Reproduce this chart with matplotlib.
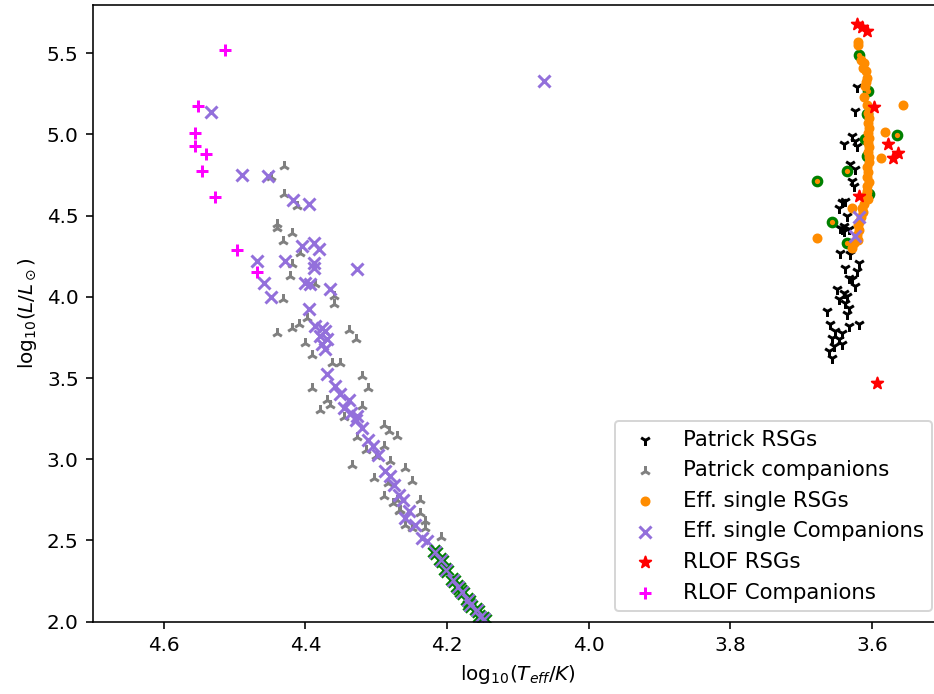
import matplotlib
matplotlib.use("Agg")
import matplotlib.pyplot as plt
import numpy as np

# Patrick RSGs
pat_rsg_T = [3.621, 3.624, 3.640, 3.628, 3.624, 3.621, 3.631, 3.624, 3.628, 3.626,
             3.642, 3.638, 3.647, 3.635, 3.640, 3.642, 3.633, 3.645, 3.640, 3.645,
             3.631, 3.619, 3.638, 3.621, 3.633, 3.628, 3.624, 3.650, 3.640, 3.635,
             3.647, 3.638, 3.633, 3.664, 3.635, 3.659, 3.619, 3.633, 3.652, 3.642,
             3.657, 3.647, 3.642, 3.654, 3.661, 3.657]
pat_rsg_L = [5.291, 5.146, 4.941, 4.992, 4.961, 4.930, 4.815, 4.785, 4.714, 4.684,
             4.581, 4.591, 4.550, 4.498, 4.437, 4.416, 4.416, 4.427, 4.406, 4.273,
             4.262, 4.211, 4.180, 4.159, 4.118, 4.108, 4.067, 4.046, 4.026, 4.005,
             3.985, 3.964, 3.933, 3.912, 3.892, 3.830, 3.830, 3.820, 3.789, 3.779,
             3.748, 3.738, 3.707, 3.696, 3.666, 3.625]

# Patrick companions
pat_comp_T = [4.430, 4.448, 4.430, 4.440, 4.440, 4.419, 4.431, 4.407, 4.419, 4.421,
              4.360, 4.360, 4.431, 4.398, 4.440, 4.419, 4.409, 4.339, 4.329, 4.400,
              4.391, 4.362, 4.351, 4.320, 4.311, 4.391, 4.369, 4.379, 4.320, 4.289,
              4.282, 4.271, 4.289, 4.280, 4.259, 4.249, 4.289, 4.271, 4.238, 4.268,
              4.259, 4.249, 4.238, 4.231, 4.231, 4.209, 4.365, 4.327, 4.315, 4.334,
              4.303, 4.283, 4.276, 4.266, 4.412, 4.386, 4.345, 4.300]
pat_comp_L = [4.807, 4.735, 4.632, 4.447, 4.427, 4.396, 4.344, 4.273, 4.201, 4.128,
              4.005, 3.954, 3.985, 3.872, 3.779, 3.810, 3.830, 3.799, 3.738, 3.717,
              3.645, 3.594, 3.594, 3.511, 3.440, 3.440, 3.368, 3.306, 3.327, 3.213,
              3.172, 3.141, 3.080, 2.987, 2.946, 2.864, 2.771, 2.751, 2.751, 2.679,
              2.597, 2.576, 2.669, 2.617, 2.576, 2.524, 3.336, 3.138, 3.058, 2.965,
              2.885, 2.854, 2.731, 2.689, 4.560, 4.080, 3.260, 3.020]

# Eff. single RSGs
eff_rsg_T = [3.620, 3.620, 3.616, 3.611, 3.613, 3.609, 3.607, 3.609, 3.610, 3.612,
             3.607, 3.606, 3.605, 3.606, 3.605, 3.606, 3.604, 3.606, 3.605, 3.606,
             3.604, 3.605, 3.607, 3.606, 3.607, 3.605, 3.607, 3.608, 3.610, 3.606,
             3.612, 3.615, 3.613, 3.616, 3.618, 3.620, 3.619, 3.622, 3.620, 3.625,
             3.628, 3.556, 3.582, 3.587, 3.678, 3.628]
eff_rsg_L = [5.570, 5.550, 5.460, 5.440, 5.410, 5.390, 5.350, 5.320, 5.300, 5.230,
             5.180, 5.130, 5.100, 5.070, 5.040, 5.010, 4.980, 4.950, 4.920, 4.890,
             4.860, 4.830, 4.800, 4.770, 4.740, 4.710, 4.680, 4.650, 4.620, 4.600,
             4.570, 4.550, 4.520, 4.490, 4.460, 4.440, 4.410, 4.380, 4.350, 4.330,
             4.300, 5.183, 5.013, 4.854, 4.365, 4.550]

# Eff. single companions
eff_comp_T = [4.063, 4.533, 4.490, 4.452, 4.417, 4.395, 4.468, 4.459, 4.449, 4.405,
              4.388, 4.381, 4.428, 4.388, 4.388, 4.327, 4.400, 4.393, 4.365, 4.395,
              4.386, 4.376, 4.372, 4.379, 4.369, 4.376, 4.372, 4.369, 4.358, 4.351,
              4.339, 4.346, 4.336, 4.327, 4.329, 4.320, 4.311, 4.305, 4.297, 4.287,
              4.280, 4.275, 4.268, 4.262, 4.254, 4.259, 4.245, 4.235, 4.228, 3.619,
              3.624]
eff_comp_L = [5.329, 5.136, 4.749, 4.745, 4.597, 4.571, 4.221, 4.088, 4.001, 4.313,
              4.334, 4.293, 4.221, 4.211, 4.180, 4.174, 4.088, 4.077, 4.046, 3.923,
              3.820, 3.810, 3.789, 3.758, 3.738, 3.707, 3.676, 3.522, 3.450, 3.399,
              3.368, 3.316, 3.286, 3.265, 3.244, 3.195, 3.121, 3.084, 3.029, 2.925,
              2.899, 2.843, 2.782, 2.751, 2.679, 2.638, 2.597, 2.514, 2.494, 4.489,
              4.375]

# RLOF RSGs
rlof_rsg_T = [3.621, 3.608, 3.614, 3.598, 3.578, 3.563, 3.570, 3.618, 3.593]
rlof_rsg_L = [5.681, 5.637, 5.662, 5.167, 4.941, 4.885, 4.853, 4.622, 3.471]

# RLOF companions
rlof_comp_T = [4.514, 4.551, 4.555, 4.555, 4.540, 4.546, 4.527, 4.496, 4.468]
rlof_comp_L = [5.522, 5.173, 5.009, 4.930, 4.878, 4.776, 4.616, 4.291, 4.153]

# highlighted systems (green outline)
hl_rsg_T = [3.618, 3.606, 3.608, 3.565, 3.610, 3.608, 3.635, 3.678, 3.605, 3.657, 3.636]
hl_rsg_L = [5.490, 5.270, 5.126, 4.996, 4.972, 4.869, 4.776, 4.714, 4.632, 4.461, 4.334]
hl_comp_T = [4.217, 4.209, 4.201, 4.191, 4.184, 4.179, 4.170, 4.167, 4.158, 4.153, 4.148]
hl_comp_L = [2.432, 2.380, 2.319, 2.257, 2.214, 2.185, 2.134, 2.103, 2.072, 2.031, 2.015]

fig = plt.figure(figsize=(934/144, 694/144), dpi=144)
ax = fig.add_axes([0.0993, 0.1042, 0.9104, 0.8893])

ax.scatter(pat_rsg_T, pat_rsg_L, marker='1', color='black', s=30, label='Patrick RSGs')
ax.scatter(pat_comp_T, pat_comp_L, marker='2', color='grey', s=30, label='Patrick companions')
ax.scatter(hl_rsg_T, hl_rsg_L, marker='o', facecolor='darkorange', edgecolor='green', s=18, linewidths=1.6)
ax.scatter(eff_rsg_T, eff_rsg_L, marker='o', color='darkorange', s=16, label='Eff. single RSGs')
ax.scatter(eff_comp_T, eff_comp_L, marker='x', color='mediumpurple', s=36, label='Eff. single Companions')
ax.scatter(hl_comp_T, hl_comp_L, marker='x', color='green', s=36, linewidths=3)
ax.scatter(hl_comp_T, hl_comp_L, marker='x', color='mediumpurple', s=36, linewidths=1.2)
ax.scatter(rlof_rsg_T, rlof_rsg_L, marker='*', color='red', s=36, label='RLOF RSGs')
ax.scatter(rlof_comp_T, rlof_comp_L, marker='+', color='magenta', s=36, label='RLOF Companions')

ax.set_xlim(4.7, 3.5)
ax.set_ylim(2.0, 5.8)
ax.set_xlabel(r'$\mathrm{log}_{10}(T_{eff}/K)$')
ax.set_ylabel(r'$\mathrm{log}_{10}(L/L_\odot)$')
ax.legend(loc='lower right', fontsize=10.6)

fig.savefig('out.png', dpi=144)
